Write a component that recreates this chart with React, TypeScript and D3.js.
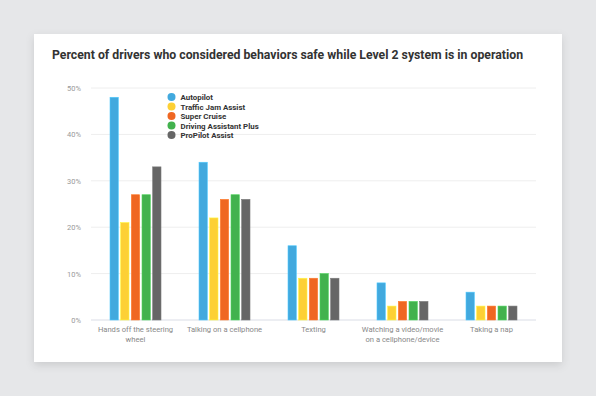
import React from 'react'
import * as d3 from "d3";

const categories = [
  ["Hands off the steering", "wheel"],
  ["Talking on a cellphone"],
  ["Texting"],
  ["Watching a video/movie", "on a cellphone/device"],
  ["Taking a nap"],
]

const seriesNames = ["Autopilot", "Traffic Jam Assist", "Super Cruise", "Driving Assistant Plus", "ProPilot Assist"]
const seriesColors = ["#42a9de", "#fdd035", "#ef6722", "#42b24e", "#666666"]

const autopilot = [48, 34, 16, 8, 6]
const trafficJam = [21, 22, 9, 3, 3]
const superCruise = [27, 26, 9, 4, 3]
const drivingPlus = [27, 27, 10, 4, 3]
const proPilot = [33, 26, 9, 4, 3]

const series = [autopilot, trafficJam, superCruise, drivingPlus, proPilot]
const yTicks = [0, 10, 20, 30, 40, 50]

const W = 596
const H = 396

const App = () => {
  const margin = { left: 91, right: 60, top: 88, bottom: 76 }
  const plotRight = W - margin.right
  const plotBottom = H - margin.bottom

  const yScale = d3.scaleLinear().domain([0, 50]).range([plotBottom, margin.top])

  const xScale = d3.scaleBand<number>()
    .domain(categories.map((_, i) => i))
    .range([margin.left, plotRight])

  const groupWidth = 51
  const xInner = d3.scaleBand<number>()
    .domain(seriesNames.map((_, i) => i))
    .range([0, groupWidth])
    .paddingInner(0.22)

  return (
    <svg width={W} height={H} style={{ position: 'absolute', left: 0, top: 0 }} fontFamily="Roboto, sans-serif">
      <defs>
        <filter id="shadow" x="-10%" y="-10%" width="120%" height="125%">
          <feDropShadow dx="0" dy="3" stdDeviation="4" floodColor="#000" floodOpacity="0.12" />
        </filter>
      </defs>
      <rect x={0} y={0} width={W} height={H} fill="#e6e7e9" />
      <rect x={34} y={34} width={528} height={328} fill="#ffffff" filter="url(#shadow)" />

      <text x={52} y={59} fontSize={13} fontWeight={700} fill="#333333" textLength={471} lengthAdjust="spacingAndGlyphs">
        Percent of drivers who considered behaviors safe while Level 2 system is in operation
      </text>

      {/* gridlines + y labels */}
      {yTicks.map(t => (
        <g key={t}>
          <line x1={margin.left} x2={plotRight} y1={yScale(t)} y2={yScale(t)}
            stroke={t === 0 ? "#dadde6" : "#eeeeee"} strokeWidth={1} />
          <text x={81} y={yScale(t) + 3} fontSize={7.5} fill="#999999" textAnchor="end">{t}%</text>
        </g>
      ))}

      {/* bars */}
      {categories.map((_, ci) => {
        const gx = (xScale(ci) as number) + xScale.bandwidth() / 2 - groupWidth / 2
        return (
          <g key={ci} transform={`translate(${gx},0)`}>
            {series.map((s, si) => (
              <rect key={si}
                x={xInner(si)}
                y={yScale(s[ci])}
                width={xInner.bandwidth()}
                height={yScale(0) - yScale(s[ci])}
                fill={seriesColors[si]}
                stroke={d3.color(seriesColors[si])!.brighter(0.5).toString()}
                strokeWidth={0.6}
              />
            ))}
          </g>
        )
      })}

      {/* x labels */}
      {categories.map((lines, ci) => (
        <text key={ci} x={(xScale(ci) as number) + xScale.bandwidth() / 2} y={332} fontSize={7.6} fill="#888888" textAnchor="middle">
          {lines.map((l, li) => (
            <tspan key={li} x={(xScale(ci) as number) + xScale.bandwidth() / 2} dy={li === 0 ? 0 : 10}>{l}</tspan>
          ))}
        </text>
      ))}

      {/* legend */}
      {seriesNames.map((n, i) => (
        <g key={n} transform={`translate(171.5, ${97 + i * 9.5})`}>
          <circle r={4} fill={seriesColors[i]} />
          <text x={9} y={3} fontSize={7.9} fontWeight={700} fill="#333333">{n}</text>
        </g>
      ))}
    </svg>
  )
}

export default App
